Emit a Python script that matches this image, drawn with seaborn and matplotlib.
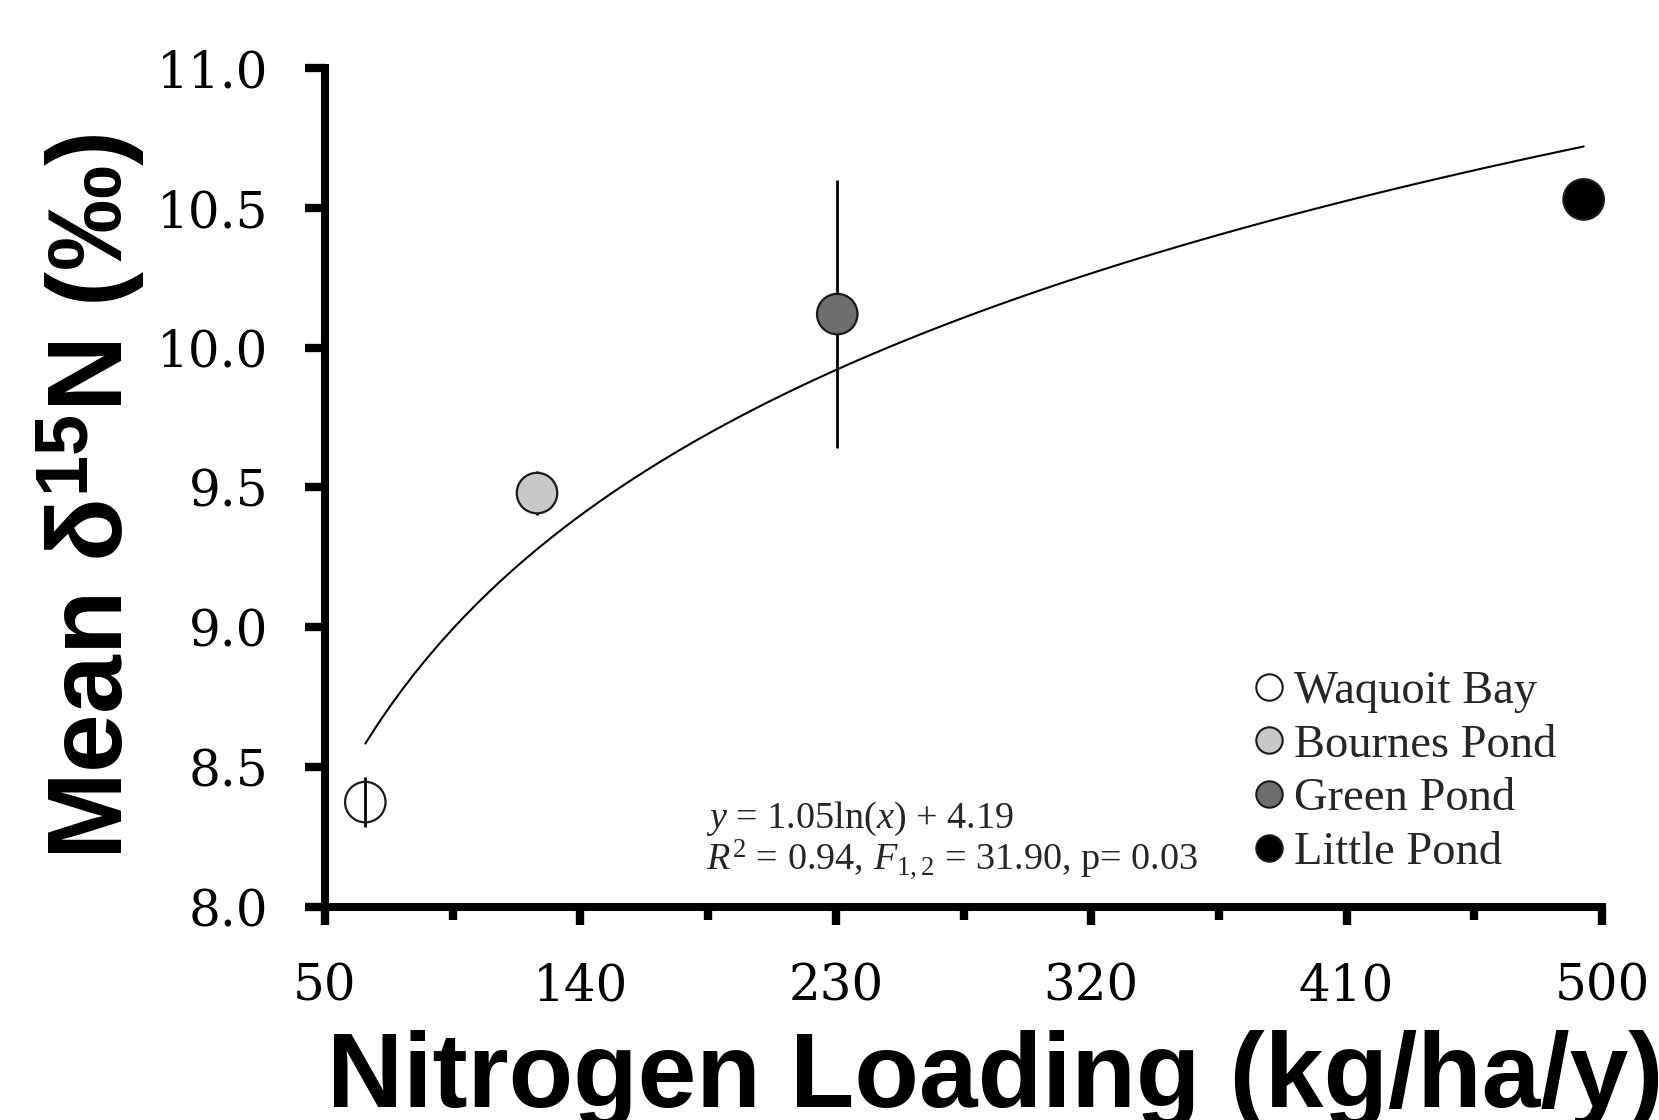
import numpy as np
import pandas as pd
import matplotlib
matplotlib.use("Agg")
import matplotlib.pyplot as plt
from matplotlib.lines import Line2D
from matplotlib.ticker import FixedLocator
import seaborn as sns

# ---- data ----
sites = ["Waquoit Bay", "Bournes Pond", "Green Pond", "Little Pond"]
n_loading = [64.2, 124.7, 230.5, 493.5]
mean_d15n = [8.375, 9.48, 10.12, 10.53]
d15n_err = [0.09, 0.08, 0.48, 0.04]
fill_colors = ["#ffffff", "#c8c8c8", "#6e6e6e", "#000000"]
x_major = [50, 140, 230, 320, 410, 500]
x_minor = [95, 185, 275, 365, 455]
y_ticks = [8.0, 8.5, 9.0, 9.5, 10.0, 10.5, 11.0]
eq_line1 = r"$y$ = 1.05ln($x$) + 4.19"
eq_line2 = r"$R^2$ = 0.94, $F_{1,2}$ = 31.90, p= 0.03"
x_label = "Nitrogen Loading (kg/ha/y)"
y_label = r"Mean δ$^{\mathbf{15}}$N (‰)"

df = pd.DataFrame({"site": sites, "load": n_loading, "d15n": mean_d15n, "err": d15n_err})

sns.set_theme(style="ticks")
plt.rcParams["font.family"] = ["Liberation Serif", "DejaVu Serif"]
plt.rcParams["mathtext.fontset"] = "custom"
plt.rcParams["mathtext.rm"] = "Liberation Serif"
plt.rcParams["mathtext.it"] = "Liberation Serif:italic"
plt.rcParams["mathtext.bf"] = "Liberation Sans:bold"

fig = plt.figure(figsize=(16.59, 11.2), dpi=100)
ax = fig.add_axes([0.1959, 0.1902, 0.9657 - 0.1959, 0.9393 - 0.1902])

# fitted log curve
sns.regplot(x="load", y="d15n", data=df, logx=True, ci=None, scatter=False,
            truncate=True, ax=ax, line_kws=dict(color="black", lw=1.5, zorder=1))

# error bars
ax.errorbar(df["load"], df["d15n"], yerr=df["err"], fmt="none",
            ecolor="black", elinewidth=2.0, capsize=0, zorder=2)

# points
pal = dict(zip(sites, fill_colors))
sns.scatterplot(data=df, x="load", y="d15n", hue="site", palette=pal, s=850,
                edgecolor="#1a1a1a", linewidth=1.6, legend=False, ax=ax, zorder=3)
coll = ax.collections[-1]
fc = coll.get_facecolors()
fc[0] = (1, 1, 1, 0)
coll.set_facecolors(fc)
coll.set_clip_on(False)

ax.set_xlim(50, 500)
ax.set_ylim(8.0, 11.0)
ax.xaxis.set_major_locator(FixedLocator(x_major))
ax.xaxis.set_minor_locator(FixedLocator(x_minor))
ax.yaxis.set_major_locator(FixedLocator(y_ticks))
ax.set_xticklabels([str(v) for v in x_major])
ax.set_yticklabels([f"{v:.1f}" for v in y_ticks])
for lab in ax.get_xticklabels() + ax.get_yticklabels():
    lab.set_family("DejaVu Serif")

for s in ["top", "right"]:
    ax.spines[s].set_visible(False)
for s in ["left", "bottom"]:
    ax.spines[s].set_linewidth(5.8)
    ax.spines[s].set_color("black")

ax.tick_params(axis="y", which="major", direction="out", length=14.5, width=6,
               pad=26, labelsize=36, color="black", labelcolor="black")
ax.tick_params(axis="x", which="major", direction="out", length=13, width=6,
               pad=27, labelsize=36, color="black", labelcolor="black")
ax.tick_params(axis="x", which="minor", direction="out", length=9, width=6, color="black")

ax.set_xlabel(x_label, fontsize=76, fontweight="bold", family="Liberation Sans", color="black")
ax.set_ylabel(y_label, fontsize=76, fontweight="bold", family="Liberation Sans", color="black")
ax.xaxis.set_label_coords(0.5247, -0.147)
ax.yaxis.set_label_coords(-0.1387, 0.489)

# equation
fig.text(706 / 1659, 1 - 828 / 1120, eq_line1, fontsize=27.5, va="baseline", ha="left")
fig.text(706 / 1659, 1 - 870 / 1120, eq_line2, fontsize=27.5, va="baseline", ha="left")

# legend
handles = [Line2D([0], [0], marker="o", ls="none", markerfacecolor=c,
                  markeredgecolor="#1a1a1a", markeredgewidth=1.5, markersize=19)
           for c in fill_colors]
ax.legend(handles, sites, loc="upper left", bbox_to_anchor=(0.728, 0.282),
          frameon=False, prop={"family": "Liberation Serif", "size": 33.5},
          handlelength=0.6, handletextpad=0.25, labelspacing=0.24,
          borderpad=0, borderaxespad=0)

fig.savefig("out.png", dpi=100)
